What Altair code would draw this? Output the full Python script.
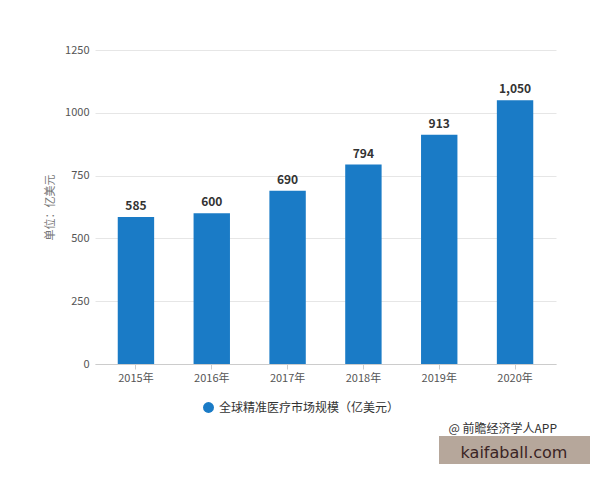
import altair as alt
import pandas as pd

years = ["2015年", "2016年", "2017年", "2018年", "2019年", "2020年"]
values = [585, 600, 690, 794, 913, 1050]
series_name = "全球精准医疗市场规模（亿美元）"
y_title = "单位：亿美元"
source_text = "@ 前瞻经济学人APP"
stamp_text = "kaifaball.com"

FONT = "Noto Sans CJK SC"

df = pd.DataFrame({"year": years, "value": values, "series": [series_name] * len(years)})

x_enc = alt.X("year:N", sort=years, title=None,
              scale=alt.Scale(paddingInner=0.52, paddingOuter=0.3),
              axis=alt.Axis(labelAngle=0, labelColor="#555", labelFontSize=11, labelFont=FONT,
                            domainColor="#cccccc", tickColor="#cccccc", tickSize=5,
                            labelPadding=3, grid=False))
y_enc = alt.Y("value:Q", title=y_title,
              scale=alt.Scale(domain=[0, 1250], nice=False),
              axis=alt.Axis(values=[0, 250, 500, 750, 1000, 1250], format="d", labelColor="#555",
                            labelFontSize=11, labelFont=FONT, ticks=False, domain=False,
                            gridColor="#e6e6e6", labelPadding=6,
                            titleColor="#777", titleFontSize=11, titleFont=FONT,
                            titleFontWeight="normal", titlePadding=9))

base = alt.Chart(df)

bars = base.mark_bar(color="#1a7bc6").encode(
    x=x_enc, y=y_enc,
    color=alt.Color("series:N", scale=alt.Scale(range=["#1a7bc6"]),
                    legend=alt.Legend(title=None, orient="none", legendX=107, legendY=351,
                                      symbolType="circle", symbolSize=120,
                                      labelFontSize=12, labelColor="#333", labelFont=FONT,
                                      labelLimit=400)),
)

labels = base.mark_text(dy=-11, fontSize=12, fontWeight="bold", color="#333", font=FONT).encode(
    x=alt.X("year:N", sort=years), y="value:Q",
    text=alt.Text("value:Q", format=","),
)

src = alt.Chart(pd.DataFrame({"t": [source_text]})).mark_text(
    align="right", baseline="middle", fontSize=12, color="#333", font=FONT
).encode(x=alt.value(462), y=alt.value(379), text="t:N")

stamp_box = alt.Chart(pd.DataFrame({"t": [stamp_text]})).mark_rect(color="#b6a79b").encode(
    x=alt.value(344), x2=alt.value(495), y=alt.value(386), y2=alt.value(421))

stamp = alt.Chart(pd.DataFrame({"t": [stamp_text]})).mark_text(
    align="center", baseline="middle", fontSize=16, color="#3a2424", font="DejaVu Sans"
).encode(x=alt.value(419), y=alt.value(403), text="t:N")

chart = alt.layer(bars, labels, src, stamp_box, stamp).properties(
    width=461, height=314,
    autosize=alt.AutoSizeParams(type="none"),
    padding={"left": 87, "top": 42, "right": 36, "bottom": 100},
    background="white",
).configure_view(strokeWidth=0, stroke="transparent")

chart.save("out.html", embed_options={"renderer": "svg", "actions": False})
